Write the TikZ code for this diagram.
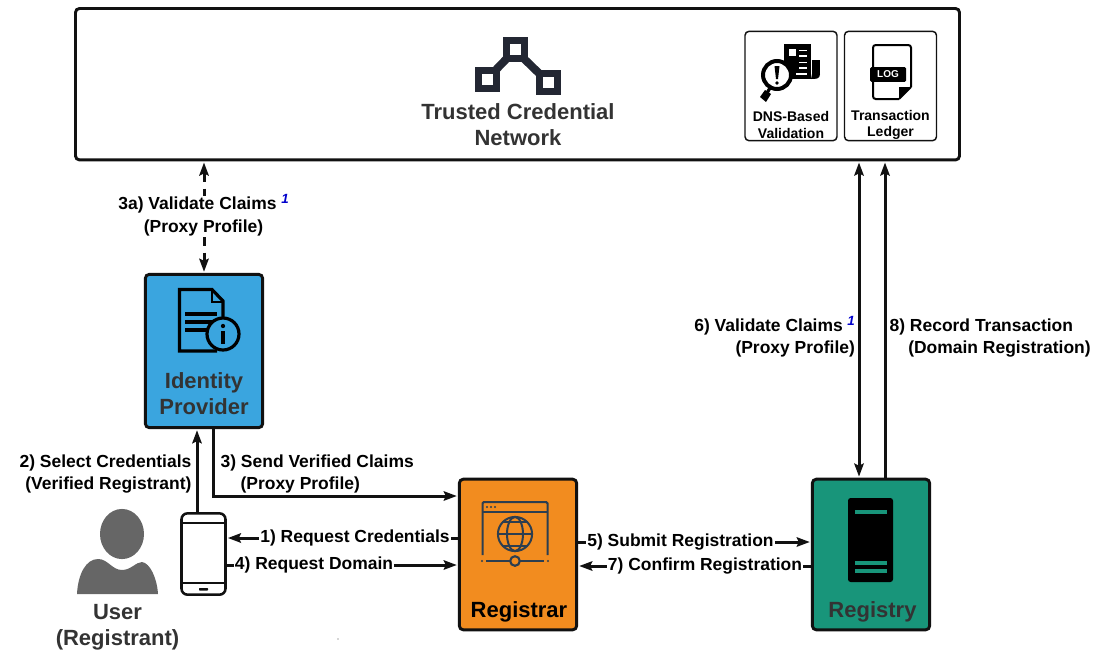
\documentclass[tikz,border=0pt]{standalone}
\usepackage{fontspec}
\setmainfont{Liberation Sans}
\usetikzlibrary{arrows.meta}
\definecolor{inkdark}{HTML}{333333}
\definecolor{linedark}{HTML}{111111}
\definecolor{idpblue}{HTML}{3AA5DF}
\definecolor{regorange}{HTML}{F28C1F}
\definecolor{regteal}{HTML}{18957A}
\definecolor{slatedark}{HTML}{2C3E50}
\definecolor{netdark}{HTML}{232733}
\definecolor{usergray}{HTML}{666666}
\newcommand{\footmark}{\hspace{3.5pt}\textcolor[HTML]{0000CC}{\raisebox{5pt}[0pt][0pt]{\fontsize{10}{10}\selectfont\itshape 1}}}
\tikzset{
  party/.style={draw=linedark,line width=2.2pt,rounded corners=3pt,minimum width=88pt,minimum height=113pt},
  subbox/.style={draw=linedark,line width=1.1pt,rounded corners=3pt,minimum width=69pt,minimum height=82pt},
  bigtext/.style={align=center,text=inkdark,font=\fontsize{16.5}{19.8}\selectfont\bfseries},
  smalltext/.style={align=center,text=black,font=\fontsize{10.5}{12.2}\selectfont\bfseries},
  steptext/.style={text=black,fill=white,inner sep=1pt,font=\fontsize{13.1}{15.9}\selectfont\bfseries},
  conn/.style={draw=linedark,line width=2.25pt,{Stealth[length=9.75pt,width=7pt,inset=1.5pt]}-{Stealth[length=9.75pt,width=7pt,inset=1.5pt]},shorten <=0.8pt,shorten >=0.8pt},
  connfwd/.style={draw=linedark,line width=2.25pt,-{Stealth[length=9.75pt,width=7pt,inset=1.5pt]},shorten >=0.8pt},
}
\begin{document}
\begin{tikzpicture}[x=0.75pt,y=-0.75pt]
\useasboundingbox (0,0) rectangle (1117,651);

% boxes
\node[party,minimum width=663pt,minimum height=113.6pt] (network) at (517.5,84.2) {};
\node[subbox] (dnsbox) at (791,86) {};
\node[subbox] (ledgerbox) at (890.5,86) {};
\node[party,fill=idpblue,minimum height=115pt] (idp) at (204,351) {};
\node[party,fill=regorange] (registrar) at (518,554.5) {};
\node[party,fill=regteal] (registry) at (871,554.5) {};
\node[draw=linedark,line width=1.9pt,fill=white,rounded corners=4.5pt,minimum width=33pt,minimum height=61pt] (phone) at (203.5,554) {};

% network icon
\draw[netdark,line width=6pt] (515,50) -- (487,79);
\draw[netdark,line width=6pt] (515,50) -- (548,82);
\foreach \px/\py in {515.5/49, 487.5/79, 548.5/82}{
  \fill[netdark] (\px-12.5,\py-12.5) rectangle (\px+12.5,\py+12.5);
  \fill[white] (\px-5.5,\py-5.5) rectangle (\px+5.5,\py+5.5);
}

% dns icon
\fill[black] (784,44) rectangle (811,79);
\fill[black] (812,60) rectangle (820,74);
\fill[black] (812,74) -- (820,74) .. controls (820,79) and (816,79) .. (811,79) -- cycle;
\fill[white] (788.5,49) rectangle (796,56);
\foreach \ly/\lx in {49.5/799, 55/799, 61.5/799, 67/799, 73/796}
  \fill[white] (\lx,\ly) rectangle (807,\ly+1.8);
\draw[black,line width=2.4pt] (770,88) -- (767,93);
\fill[black] (765,90) -- (771,94) -- (766,102) -- (760,97) -- cycle;
\draw[black,line width=3pt,fill=white] (777,75) circle (10.5pt);
\fill[black] (774.5,66) -- (779.5,66) -- (778,79) -- (776,79) -- cycle;
\fill[black] (777,83) circle (1.4pt);

% ledger icon
\draw[black,line width=1.5pt,rounded corners=2pt] (899,99) -- (873,99) -- (873,45) -- (911,45) -- (911,87);
\fill[black] (911,87) -- (899,87) -- (899,99) -- cycle;
\draw[black,line width=1.5pt] (911,87) -- (899,99);
\node[fill=black,text=white,rounded corners=1pt,inner sep=0pt,minimum width=27pt,minimum height=11pt,font=\fontsize{7.5}{9}\selectfont\bfseries] (loglabel) at (888,74.5) {LOG};

% identity icon
\draw[black,line width=2.4pt] (217,351) -- (179.5,351) -- (179.5,289.5) -- (212,289.5) -- (223,301) -- (223,320);
\draw[black,line width=1.6pt] (212,289.5) -- (212,302) -- (223,302);
\foreach \ly/\lx in {314/217, 322/212, 330/207}
  \draw[black,line width=2.4pt] (185,\ly) -- (\lx,\ly);
\draw[black,line width=2.4pt,fill=idpblue] (223,334) circle (12pt);
\fill[black] (223,326) circle (1.6pt);
\fill[black] (221.3,331) rectangle (224.7,344);

% registrar icon
\draw[slatedark,line width=1.5pt,rounded corners=1pt] (482.5,555) -- (482.5,502) -- (547.5,502) -- (547.5,555);
\draw[slatedark,line width=1.5pt] (482.5,512) -- (547.5,512);
\foreach \dx in {487,491,495}
  \fill[slatedark] (\dx,507) circle (0.8pt);
\draw[slatedark,line width=1.5pt] (515,534) circle (12.8pt);
\draw[slatedark,line width=1.5pt] (515,534) ellipse (6pt and 12.8pt);
\draw[slatedark,line width=1.5pt] (502,522) -- (528,522);
\draw[slatedark,line width=1.5pt] (503,546) -- (527,546);
\draw[slatedark,line width=1.5pt] (499,534) -- (531,534);
\draw[slatedark,line width=1.6pt] (486,561) -- (510,561);
\draw[slatedark,line width=1.6pt] (520,561) -- (544,561);
\fill[slatedark] (482,561) circle (0.9pt);
\fill[slatedark] (548,561) circle (0.9pt);
\draw[slatedark,line width=1.6pt] (515,561) circle (3.6pt);

% registry icon
\fill[black,rounded corners=2pt] (848,582) -- (848,498) -- (893,498) -- (893,582) -- cycle;
\foreach \ly in {510,561,569}
  \fill[regteal] (855,\ly) rectangle (887,\ly+4);

% user
\fill[usergray] (122,534) ellipse (16.5pt and 18.8pt);
\fill[usergray] (77,594) .. controls (78,574) and (86,559) .. (98,559) .. controls (108,559) and (112,570) .. (122,570)
  .. controls (131,570) and (136,562) .. (142,562) .. controls (150,563) and (157,578) .. (158,594) -- cycle;

% phone details
\draw[linedark,line width=1.4pt] (phone.west |- 0,523) -- (phone.east |- 0,523);
\draw[linedark,line width=1.4pt] (phone.west |- 0,583) -- (phone.east |- 0,583);
\fill[linedark,rounded corners=0.5pt] (199,588) rectangle (208,590.5);

% rails
\coordinate (railcred) at (0,538);
\coordinate (raildom) at (0,565);
\coordinate (railsub) at (0,542);
\coordinate (railconf) at (0,566);
\coordinate (railsend) at (0,496);
\coordinate (railup) at (197,0);
\coordinate (raildown) at (213.5,0);
\coordinate (railval) at (859,0);
\coordinate (railrec) at (885,0);

% connectors
\draw[conn,dash pattern=on 7pt off 5pt] (network.south -| idp.north) -- (idp.north);
\draw[connfwd] (railup |- phone.north) -- (railup |- idp.south);
\draw[connfwd] (raildown |- idp.south) |- (registrar.west |- railsend);
\draw[connfwd] (registrar.west |- railcred) -- (phone.east |- railcred);
\draw[connfwd] (phone.east |- raildom) -- (registrar.west |- raildom);
\draw[connfwd] (registrar.east |- railsub) -- (registry.west |- railsub);
\draw[connfwd] (registry.west |- railconf) -- (registrar.east |- railconf);
\draw[conn] (railval |- network.south) -- (railval |- registry.north);
\draw[connfwd] (railrec |- registry.north) -- (railrec |- network.south);

% texts
\node[bigtext] (networktext) at (518,124.5) {Trusted Credential\\Network};
\node[smalltext] (dnstext) at (791,125) {DNS-Based\\Validation};
\node[smalltext] (ledgertext) at (890.5,125) {Transaction\\Ledger};
\node[bigtext] (idptext) at (204,393.5) {Identity\\Provider};
\node[bigtext] (usertext) at (117.5,627) {User\\(Registrant)};
\node[bigtext,text=black] (registrartext) at (519,612) {Registrar};
\node[bigtext] (registrytext) at (872.5,612) {Registry};

% step labels
\node[steptext,align=center] (claimsa) at (203.5,216.5) {3a) Validate Claims\footmark\\[1pt](Proxy Profile)};
\node[steptext,align=right,fill=none,anchor=east] (selectcred) at (193,474) {2) Select Credentials\\(Verified Registrant)};
\node[steptext,align=left,fill=none,anchor=west] (sendclaims) at (219,474) {3) Send Verified Claims\\\hspace*{15pt}(Proxy Profile)};
\node[steptext] (reqcred) at (355,538) {1) Request Credentials};
\node[steptext] (reqdom) at (314,565) {4) Request Domain};
\node[steptext] (subreg) at (680.5,542) {5) Submit Registration};
\node[steptext] (confreg) at (705,566) {7) Confirm Registration};
\node[steptext,align=right,fill=none,anchor=east] (valclaims) at (856.5,338) {6) Validate Claims\footmark\\(Proxy Profile)};
\node[steptext,align=left,fill=none,anchor=west] (rectrans) at (888,338) {8) Record Transaction\\\hspace*{14pt}(Domain Registration)};
\fill[black!70] (338,639) circle (0.5pt);
\end{tikzpicture}
\end{document}
